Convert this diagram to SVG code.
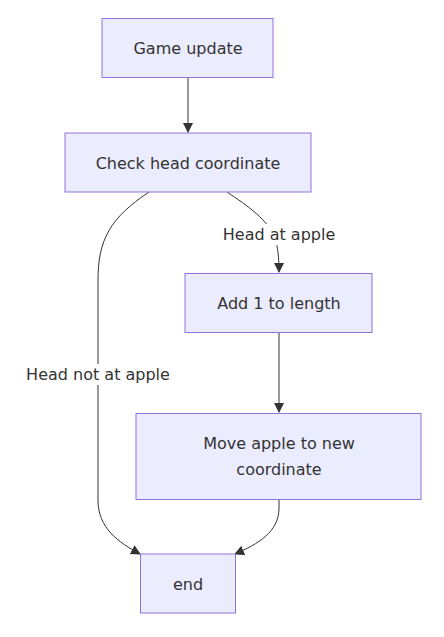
<svg xmlns="http://www.w3.org/2000/svg" width="444" height="637" viewBox="0 0 444 637">
<style>
.node rect{fill:#ECECFF;stroke:#9370DB;stroke-width:1}
.node text,.lbl text{font-family:"Trebuchet MS","DejaVu Sans","Liberation Sans",sans-serif;font-size:16px;fill:#333;text-anchor:middle;dominant-baseline:central}
.edge{fill:none;stroke:#333;stroke-width:1;marker-end:url(#arr)}
.lbl rect{fill:#fff}
</style>
<defs>
<marker id="arr" markerUnits="userSpaceOnUse" markerWidth="10" markerHeight="10" viewBox="0 0 10 10" refX="9" refY="5" orient="auto">
<path d="M0,0 L10,5 L0,10 z" fill="#333"/>
</marker>
</defs>
<rect width="444" height="637" fill="#fff"/>
<g id="connectors">
<path class="edge" d="M188,77 L188,132"/>
<path class="edge" d="M227,192 C248,206 268,220 275,238 C278,248 279,258 279,272"/>
<path class="edge" d="M149,192 C110,218 98,240 98,280 L98,500 C98,528 118,542 140,554"/>
<path class="edge" d="M279,332 L279,412"/>
<path class="edge" d="M279,499 L279,508 C279,532 258,544 235,554"/>
<g class="lbl"><rect x="223" y="224" width="111" height="21"/><text x="279" y="234.5">Head at apple</text></g>
<g class="lbl"><rect x="27" y="364" width="142" height="21"/><text x="98" y="374.5">Head not at apple</text></g>
</g>
<g id="game" class="node"><rect x="102" y="18.5" width="171" height="59"/><text x="188" y="48">Game update</text></g>
<g id="check" class="node"><rect x="65" y="133" width="246" height="59"/><text x="188" y="163">Check head coordinate</text></g>
<g id="add" class="node"><rect x="185" y="273.5" width="187" height="59"/><text x="279" y="303.5">Add 1 to length</text></g>
<g id="move" class="node"><rect x="136" y="413.5" width="285" height="86"/><text x="279" y="443.5">Move apple to new</text><text x="279" y="469.5">coordinate</text></g>
<g id="end" class="node"><rect x="140.5" y="554" width="95" height="59"/><text x="188" y="584">end</text></g>
</svg>
